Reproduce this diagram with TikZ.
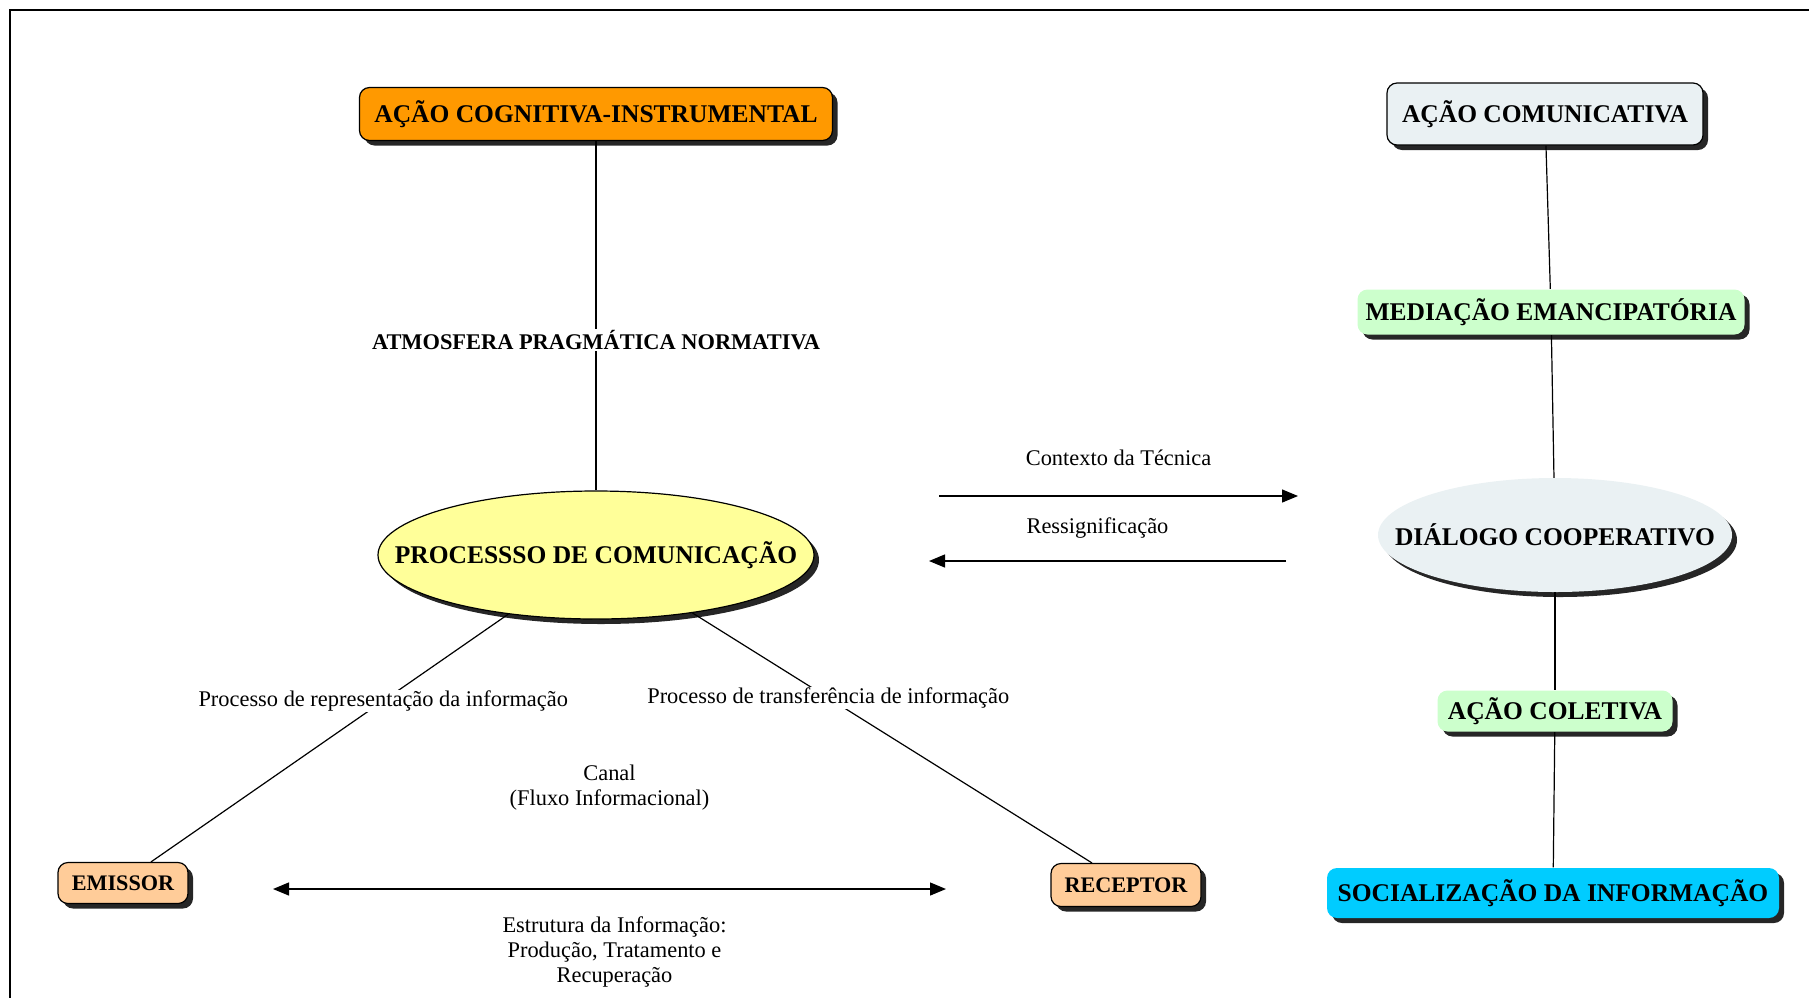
\documentclass[tikz,border=0pt]{standalone}
\usepackage{fontspec}
\setmainfont{Liberation Serif}
\usetikzlibrary{arrows.meta,shapes.geometric,shadows}
\definecolor{laranja}{RGB}{255,153,0}
\definecolor{cinzaazul}{RGB}{234,241,243}
\definecolor{verdeclaro}{RGB}{204,255,204}
\definecolor{amarelo}{RGB}{255,255,153}
\definecolor{pessego}{RGB}{255,204,153}
\definecolor{ciano}{RGB}{0,204,255}
\tikzset{
  sombra/.style={drop shadow={shadow xshift=5pt, shadow yshift=-5pt, fill=black!85, opacity=1}},
  negrito/.style={font=\fontsize{25.5}{30}\selectfont\bfseries},
  caixa/.style={draw, line width=1.2pt, rounded corners=10pt, inner sep=0pt, sombra, negrito},
  caixasem/.style={caixa, draw=none},
  oval/.style={ellipse, inner sep=0pt, sombra},
  rotulo/.style={fill=white, inner sep=1pt, align=center, font=\fontsize{22.4}{25}\selectfont},
  seta/.style={line width=1.3pt, -{Triangle[length=16pt,width=13pt]}},
  setadupla/.style={line width=1.3pt, {Triangle[length=16pt,width=13pt]}-{Triangle[length=16pt,width=13pt]}}
}
\begin{document}
\begin{tikzpicture}[x=1pt,y=-1pt]
  \useasboundingbox (0,0) rectangle (1809,997);
  \draw[line width=2pt] (10,1010) -- (10,10) -- (1820,10);

  \node[caixa, fill=laranja, minimum width=473pt, minimum height=53pt] (aci) at (596,114) {AÇÃO COGNITIVA-INSTRUMENTAL};
  \node[caixa, fill=cinzaazul, minimum width=316pt, minimum height=62pt] (acom) at (1545,114) {AÇÃO COMUNICATIVA};
  \node[caixasem, fill=verdeclaro, minimum width=387pt, minimum height=45pt] (med) at (1551,312) {MEDIAÇÃO EMANCIPATÓRIA};
  \node[oval, fill=cinzaazul, minimum width=354pt, minimum height=114pt,
    label={[negrito]center:DIÁLOGO COOPERATIVO}] (dial) at (1555,535) {};
  \node[caixasem, fill=verdeclaro, minimum width=235pt, minimum height=41pt] (acol) at (1555,711) {AÇÃO COLETIVA};
  \node[caixasem, fill=ciano, minimum width=452pt, minimum height=50pt] (soc) at (1553,893) {SOCIALIZAÇÃO DA INFORMAÇÃO};
  \node[oval, draw, line width=1.2pt, fill=amarelo, minimum width=436pt, minimum height=128pt,
    label={[negrito]center:PROCESSSO DE COMUNICAÇÃO}] (proc) at (596,555) {};
  \node[caixa, fill=pessego, minimum width=130pt, minimum height=41pt, font=\fontsize{22.2}{26}\selectfont\bfseries] (em) at (123,883) {EMISSOR};
  \node[caixa, fill=pessego, minimum width=150pt, minimum height=43pt, font=\fontsize{22.2}{26}\selectfont\bfseries] (rec) at (1126,885) {RECEPTOR};

  \coordinate (ct1) at (939,496);
  \coordinate (ct2) at (1298,496);
  \coordinate (rs1) at (1286,561);
  \coordinate (rs2) at (929,561);
  \coordinate (fx1) at (273,889);
  \coordinate (fx2) at (946,889);

  \draw[line width=1.2pt] (aci) to node[rotulo, pos=0.57, font=\fontsize{22.4}{26}\selectfont\bfseries]{ATMOSFERA PRAGMÁTICA NORMATIVA} (proc);
  \draw[line width=1.2pt] (proc.214) to node[rotulo, pos=0.35]{Processo de representação da informação} (em.37);
  \draw[line width=1.2pt] (proc.-31) to node[rotulo, pos=0.34]{Processo de transferência de informação} (rec.147);
  \draw[line width=1.2pt] (acom) -- (med);
  \draw[line width=1.2pt] (med) -- (dial);
  \draw[line width=1.2pt] (dial) -- (acol);
  \draw[line width=1.2pt] (acol) -- (soc);

  \draw[seta] (ct1) to node[rotulo, midway, yshift=38pt]{Contexto da Técnica} (ct2);
  \draw[seta] (rs1) to node[rotulo, midway, yshift=33pt, xshift=-10pt]{Ressignificação} (rs2);
  \draw[setadupla] (fx1) to node[rotulo, midway, yshift=101pt]{Canal\\(Fluxo Informacional)}
    node[rotulo, midway, yshift=-63pt, xshift=5pt]{Estrutura da Informação:\\Produção, Tratamento e\\Recuperação} (fx2);
\end{tikzpicture}
\end{document}
